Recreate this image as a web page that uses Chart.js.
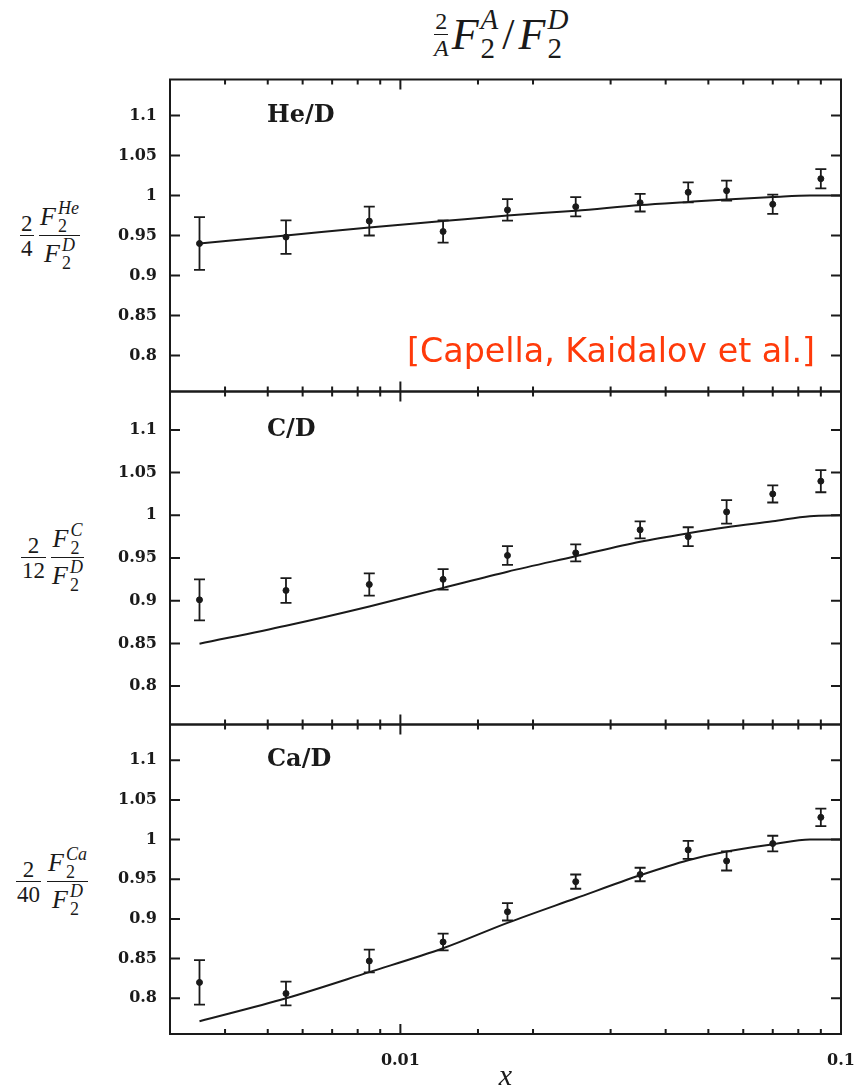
<!DOCTYPE html>
<html lang="en">
<head>
  <meta charset="UTF-8" />
  <title>Nuclear structure function ratios</title>
  <script src="https://cdn.jsdelivr.net/npm/chart.js"></script>
  <style>
    body {
      margin: 0;
      width: 856px;
      height: 1092px;
      position: relative;
      overflow: hidden;
      background: #fff;
      color: #1a1a1a;
    }

    canvas {
      position: absolute;
      left: 0;
    }

    .math {
      position: absolute;
      display: flex;
      align-items: center;
      font-family: "Liberation Serif", "DejaVu Serif", serif;
      color: #1a1a1a;
      white-space: nowrap;
    }

    .frac {
      position: absolute;
      display: flex;
      flex-direction: column;
      align-items: stretch;
      font-family: "Liberation Serif", "DejaVu Serif", serif;
      color: #1a1a1a;
    }

    .frac .num {
      display: flex;
      justify-content: center;
      align-items: flex-end;
      border-bottom: 1.6px solid #1a1a1a;
      padding: 0 1px;
    }

    .frac .den {
      display: flex;
      justify-content: center;
      align-items: flex-start;
      padding: 0 1px;
    }

    .ff {
      display: inline-flex;
      align-items: center;
    }

    .ss {
      display: inline-flex;
      flex-direction: column;
      line-height: 1;
      margin-left: 2px;
    }

    i { font-style: italic; }
  </style>
</head>
<body>
  <!-- title -->
  <div class="math" style="left:434px; top:7px; height:54px; font-size:44px;">
    <span style="display:inline-flex; flex-direction:column; align-items:center; font-size:24px; line-height:1; margin-right:3px;">
      <span style="border-bottom:1.5px solid #1a1a1a; padding:0 1px 1px;">2</span>
      <i style="padding-top:1px;">A</i>
    </span>
    <span class="ff"><i>F</i><span class="ss" style="font-size:29px;"><i>A</i><span>2</span></span></span>
    <span style="margin:0 4px;">/</span>
    <span class="ff"><i>F</i><span class="ss" style="font-size:29px;"><i>D</i><span>2</span></span></span>
  </div>

  <!-- y labels -->
  <div class="frac" style="left:20px; top:208px; font-size:23px;">
    <div class="num" style="height:27px; line-height:1;">2</div>
    <div class="den" style="line-height:1.1;">4</div>
  </div>
  <div class="frac" style="left:39px; top:199px; font-size:26px;">
    <div class="num" style="height:36px;"><span class="ff"><i>F</i><span class="ss" style="font-size:18px;"><i>He</i><span>2</span></span></span></div>
    <div class="den"><span class="ff"><i>F</i><span class="ss" style="font-size:18px;"><i>D</i><span>2</span></span></span></div>
  </div>

  <div class="frac" style="left:21px; top:530px; font-size:23px;">
    <div class="num" style="height:27px; line-height:1;">2</div>
    <div class="den" style="line-height:1.1;">12</div>
  </div>
  <div class="frac" style="left:51px; top:521px; font-size:26px;">
    <div class="num" style="height:36px;"><span class="ff"><i>F</i><span class="ss" style="font-size:18px;"><i>C</i><span>2</span></span></span></div>
    <div class="den"><span class="ff"><i>F</i><span class="ss" style="font-size:18px;"><i>D</i><span>2</span></span></span></div>
  </div>

  <div class="frac" style="left:16px; top:854px; font-size:23px;">
    <div class="num" style="height:27px; line-height:1;">2</div>
    <div class="den" style="line-height:1.1;">40</div>
  </div>
  <div class="frac" style="left:47px; top:845px; font-size:26px;">
    <div class="num" style="height:36px;"><span class="ff"><i>F</i><span class="ss" style="font-size:18px;"><i>Ca</i><span>2</span></span></span></div>
    <div class="den"><span class="ff"><i>F</i><span class="ss" style="font-size:18px;"><i>D</i><span>2</span></span></span></div>
  </div>

  <canvas id="c1" width="856" height="332" style="top:69px"></canvas>
  <canvas id="c2" width="856" height="354" style="top:381px"></canvas>
  <canvas id="c3" width="856" height="378" style="top:714px"></canvas>

  <script>
    // x bins of the measured points and of the model curve
    const xData = [0.0035, 0.0055, 0.0085, 0.0125, 0.0175, 0.025, 0.035, 0.045, 0.055, 0.07, 0.09];
    const xCurve = [0.0035, 0.0055, 0.0085, 0.0125, 0.0175, 0.025, 0.035, 0.045, 0.055, 0.07, 0.085, 0.1];

    // He/D
    const heData = [0.940, 0.948, 0.968, 0.955, 0.982, 0.986, 0.991, 1.004, 1.006, 0.989, 1.021];
    const heErr = [0.033, 0.021, 0.018, 0.014, 0.0135, 0.012, 0.011, 0.0125, 0.0125, 0.012, 0.012];
    const heCurve = [0.940, 0.950, 0.960, 0.968, 0.975, 0.981, 0.988, 0.992, 0.995, 0.998, 1.0, 1.0];

    // C/D
    const cData = [0.901, 0.912, 0.919, 0.925, 0.953, 0.956, 0.983, 0.975, 1.004, 1.025, 1.040];
    const cErr = [0.024, 0.0145, 0.013, 0.012, 0.011, 0.010, 0.010, 0.011, 0.0137, 0.010, 0.013];
    const cCurve = [0.8496, 0.8707, 0.8933, 0.915, 0.934, 0.952, 0.969, 0.979, 0.986, 0.993, 0.999, 1.0];

    // Ca/D
    const caData = [0.820, 0.806, 0.847, 0.871, 0.909, 0.947, 0.956, 0.987, 0.973, 0.995, 1.028];
    const caErr = [0.028, 0.015, 0.0144, 0.0105, 0.011, 0.009, 0.0085, 0.0113, 0.012, 0.0098, 0.011];
    const caCurve = [0.771, 0.800, 0.833, 0.863, 0.895, 0.926, 0.955, 0.974, 0.985, 0.994, 1.0, 1.0];

    const panelNames = ['He/D', 'C/D', 'Ca/D'];
    const xTickLabels = ['0.01', '0.1'];
    const note = '[Capella, Kaidalov et al.]';

    const ink = '#1a1a1a';
    const tickFont = { family: '"DejaVu Serif", serif', size: 16, weight: 'bold' };

    function isDecade(v) {
      const l = Math.log10(v);
      return Math.abs(l - Math.round(l)) < 1e-6;
    }

    function seg(ctx, x1, y1, x2, y2) {
      ctx.moveTo(x1, y1);
      ctx.lineTo(x2, y2);
    }

    // chart.js would reserve room for the end tick labels, we place the area ourselves
    function noPad(s) {
      s.paddingTop = 0;
      s.paddingBottom = 0;
      s.paddingLeft = 0;
      s.paddingRight = 0;
    }

    // frame, inward ticks, error bars and panel text
    const panelPlugin = {
      id: 'panel',
      afterDatasetsDraw(chart, args, opts) {
        const { ctx, chartArea: a, scales: { x, y } } = chart;
        ctx.save();
        ctx.strokeStyle = ink;

        ctx.lineWidth = 1.8;
        ctx.beginPath();
        chart.data.datasets[1].data.forEach((p, i) => {
          const px = x.getPixelForValue(p.x);
          const hi = y.getPixelForValue(p.y + opts.err[i]);
          const lo = y.getPixelForValue(p.y - opts.err[i]);
          seg(ctx, px, hi, px, lo);
          seg(ctx, px - 5.5, hi, px + 5.5, hi);
          seg(ctx, px - 5.5, lo, px + 5.5, lo);
        });
        ctx.stroke();

        ctx.lineWidth = 2;
        ctx.strokeRect(a.left, a.top, a.width, a.height);

        ctx.beginPath();
        y.ticks.forEach(t => {
          const py = y.getPixelForValue(t.value);
          seg(ctx, a.left, py, a.left + 10, py);
          seg(ctx, a.right - 10, py, a.right, py);
        });
        x.ticks.forEach(t => {
          const px = x.getPixelForValue(t.value);
          const len = isDecade(t.value) ? 10 : 5;
          seg(ctx, px, a.top, px, a.top + len);
          seg(ctx, px, a.bottom, px, a.bottom - len);
        });
        ctx.stroke();

        ctx.fillStyle = ink;
        ctx.font = 'bold 24px "DejaVu Serif", serif';
        ctx.textBaseline = 'middle';
        ctx.textAlign = 'left';
        ctx.fillText(opts.name, a.left + 97, y.getPixelForValue(1.1));

        if (opts.note) {
          ctx.fillStyle = '#ff3a0a';
          ctx.font = '34px "DejaVu Sans", sans-serif';
          ctx.textBaseline = 'alphabetic';
          ctx.fillText(opts.note, 407, y.getPixelForValue(0.8) + 6, 408);
        }
        ctx.restore();
      }
    };

    function makePanel(id, name, pts, err, curve, opts) {
      const last = !!opts.last;
      return new Chart(document.getElementById(id), {
        type: 'scatter',
        data: {
          datasets: [
            {
              type: 'line',
              data: xCurve.map((v, i) => ({ x: v, y: curve[i] })),
              borderColor: ink,
              borderWidth: 2,
              pointRadius: 0,
              cubicInterpolationMode: 'monotone',
              fill: false
            },
            {
              data: xData.map((v, i) => ({ x: v, y: pts[i] })),
              backgroundColor: ink,
              borderColor: ink,
              pointRadius: 3,
              showLine: false
            }
          ]
        },
        options: {
          responsive: false,
          devicePixelRatio: 1,
          animation: false,
          events: [],
          layout: { padding: { left: 0, right: 15, top: 10.5, bottom: last ? 0 : opts.bottom } },
          plugins: {
            legend: { display: false },
            tooltip: { enabled: false },
            panel: { name: name, err: err, note: opts.note }
          },
          scales: {
            x: {
              type: 'logarithmic',
              min: 0.003,
              max: 0.1,
              grid: { display: false, drawTicks: false },
              border: { display: false },
              ticks: {
                display: last,
                autoSkip: false,
                maxRotation: 0,
                padding: 17,
                color: ink,
                font: tickFont,
                callback: v => (xTickLabels.includes(String(v)) ? String(v) : '')
              },
              title: {
                display: last,
                text: 'x',
                color: ink,
                font: { family: '"Liberation Serif", serif', size: 30, style: 'italic', lineHeight: 1 },
                padding: { top: 0, bottom: 0 }
              },
              afterFit: s => { s.height = last ? 58 : 0; noPad(s); }
            },
            y: {
              min: 0.755,
              max: 1.145,
              grid: { display: false, drawTicks: false },
              border: { display: false },
              ticks: {
                stepSize: 0.05,
                includeBounds: false,
                padding: 13,
                color: ink,
                font: tickFont,
                callback: v => String(+v.toFixed(2))
              },
              afterFit: s => { s.width = 170; noPad(s); }
            }
          }
        },
        plugins: [panelPlugin]
      });
    }

    makePanel('c1', panelNames[0], heData, heErr, heCurve, { bottom: 9.5, note: note });
    makePanel('c2', panelNames[1], cData, cErr, cCurve, { bottom: 10.5 });
    makePanel('c3', panelNames[2], caData, caErr, caCurve, { last: true });
  </script>
</body>
</html>
